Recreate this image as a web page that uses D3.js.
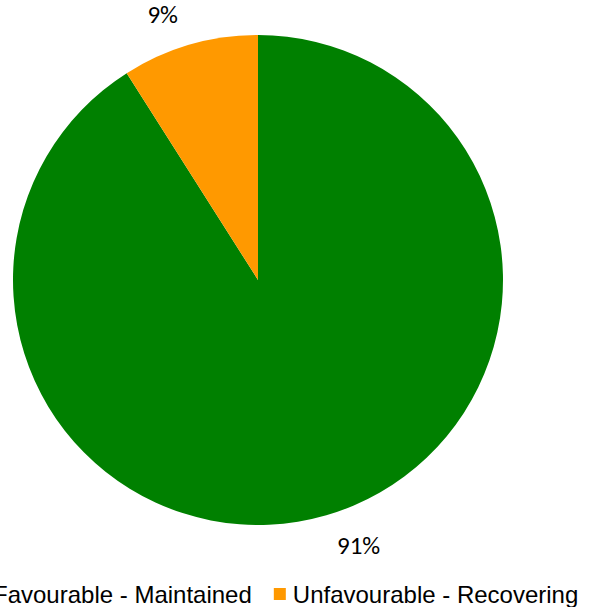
<!DOCTYPE html>
<html>
<head>
<meta charset="utf-8">
<script src="https://cdn.jsdelivr.net/npm/d3@7"></script>
<style>
  html, body { margin: 0; padding: 0; background: #fff; overflow: hidden; }
  svg { display: block; }
</style>
</head>
<body>
<div id="chart"></div>
<script>
// chart data
const categories = ['Favourable - Maintained', 'Unfavourable - Recovering'];
const values = [91, 9];
const labels = ['91%', '9%'];
const colors = ['#008000', '#ff9900'];

const width = 593;
const height = 607;
const center = { x: 258, y: 280 };
const radius = 245;
const labelRadius = 276;

const svg = d3
  .select('#chart')
  .append('svg')
  .attr('width', width)
  .attr('height', height);

const pieGroup = svg.append('g').attr('transform', `translate(${center.x}, ${center.y})`);

const pie = d3.pie().sort(null).value((d) => d);
const arcs = pie(values);

const arc = d3.arc().innerRadius(0).outerRadius(radius);
const labelArc = d3.arc().innerRadius(labelRadius).outerRadius(labelRadius);

pieGroup
  .selectAll('path')
  .data(arcs)
  .join('path')
  .attr('d', arc)
  .attr('fill', (d, i) => colors[i]);

// percentage labels, anchored away from the vertical axis
pieGroup
  .selectAll('text')
  .data(arcs)
  .join('text')
  .attr('transform', (d) => `translate(${labelArc.centroid(d)})`)
  .attr('dx', (d) => ((d.startAngle + d.endAngle) / 2 > Math.PI ? -3 : 2))
  .attr('text-anchor', (d) => ((d.startAngle + d.endAngle) / 2 > Math.PI ? 'end' : 'start'))
  .attr('dominant-baseline', 'central')
  .style('font-family', 'Carlito, Lato, sans-serif')
  .style('font-size', '25px')
  .style('fill', '#000')
  .text((d, i) => labels[i]);

// legend
const legend = svg.append('g').attr('transform', 'translate(-26, 594)');
let offset = 0;
categories.forEach((name, i) => {
  const item = legend.append('g').attr('transform', `translate(${offset}, 0)`);
  item.append('rect').attr('x', 0).attr('y', -6).attr('width', 12).attr('height', 12).attr('fill', colors[i]);
  const t = item
    .append('text')
    .attr('x', 19)
    .attr('y', 0)
    .attr('dominant-baseline', 'central')
    .style('font-family', 'Arial, "Liberation Sans", sans-serif')
    .style('font-size', '24px')
    .style('fill', '#000')
    .text(name);
  offset += 19 + t.node().getComputedTextLength() + 22;
});
</script>
</body>
</html>
